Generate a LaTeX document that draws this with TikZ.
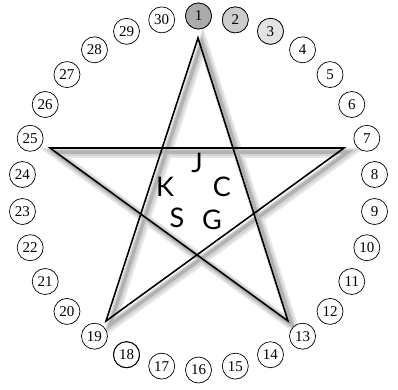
\documentclass[tikz,border=0pt]{standalone}
\usepackage{fontspec}
\setmainfont{Liberation Serif}
\newfontfamily\letterfont{Lato}
\begin{document}
\begin{tikzpicture}[x=1pt,y=-1pt,
  num/.style={circle, draw, line width=0.7pt, minimum size=26pt, inner sep=0pt,
    font=\fontsize{15}{15}\selectfont, fill=white},
  starline/.style={line width=1.6pt, line join=miter},
  shadowA/.style={line width=10pt, draw=black!9, line join=miter},
  shadowB/.style={line width=7pt, draw=black!17, line join=miter},
  shadowC/.style={line width=3.5pt, draw=black!30, line join=miter},
  letter/.style={font=\letterfont\fontsize{27}{27}\selectfont, inner sep=0pt}]
\useasboundingbox (0,0) rectangle (398,389);
% star corners
\coordinate (s1) at (198,38);
\coordinate (s7) at (344,148);
\coordinate (s13) at (288,321);
\coordinate (s19) at (106,321);
\coordinate (s25) at (50,148);
% shadow
\draw[shadowA] ([shift={(5,5)}]s1) -- ([shift={(5,5)}]s19) -- ([shift={(5,5)}]s7)
  -- ([shift={(5,5)}]s25) -- ([shift={(5,5)}]s13) -- cycle;
\draw[shadowB] ([shift={(4.5,4.5)}]s1) -- ([shift={(4.5,4.5)}]s19) -- ([shift={(4.5,4.5)}]s7)
  -- ([shift={(4.5,4.5)}]s25) -- ([shift={(4.5,4.5)}]s13) -- cycle;
\draw[shadowC] ([shift={(4,4)}]s1) -- ([shift={(4,4)}]s19) -- ([shift={(4,4)}]s7)
  -- ([shift={(4,4)}]s25) -- ([shift={(4,4)}]s13) -- cycle;
% star
\draw[starline] (s1) -- (s19) -- (s7) -- (s25) -- (s13) -- cycle;
% numbered circles
\foreach \i in {1,...,30}{
  \pgfmathsetmacro{\ang}{90-12*(\i-1)}
  \node[num] (c\i) at ({198.5+177*cos(\ang)},{193-177*sin(\ang)}) {\i};
}
\node[num, fill=black!33] at (c1) {1};
\node[num, fill=black!20] at (c2) {2};
\node[num, fill=black!11] at (c3) {3};
\node[num, line width=1pt] at (c18) {18};
% letters
\node[letter] (lJ) at (197,163) {J};
\node[letter] (lK) at (165,187) {K};
\node[letter] (lC) at (222,187) {C};
\node[letter] (lS) at (177,218) {S};
\node[letter] (lG) at (212,220) {G};
\end{tikzpicture}
\end{document}
